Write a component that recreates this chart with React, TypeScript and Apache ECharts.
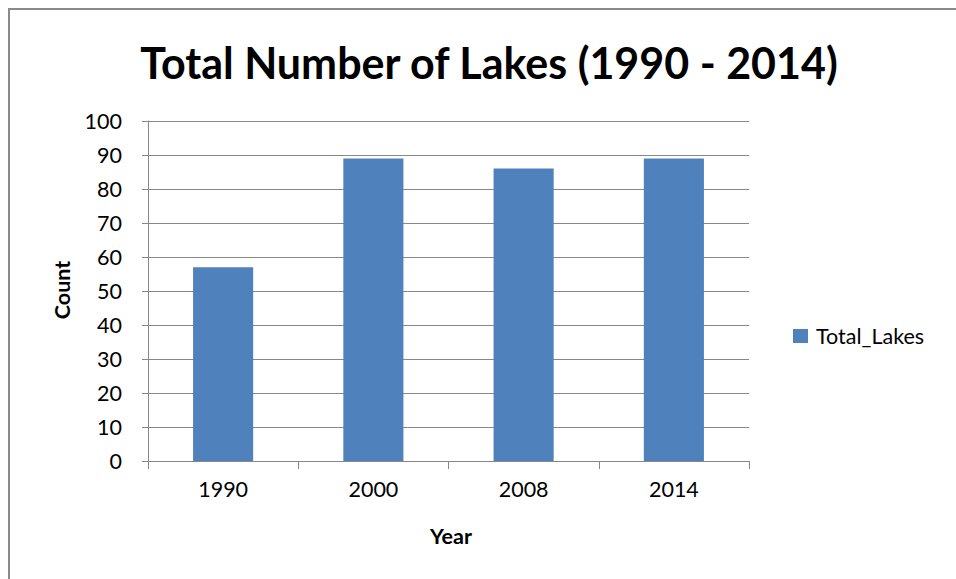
import React, { useEffect, useRef } from "react";
import * as echarts from "echarts";

const years = ["1990", "2000", "2008", "2014"];
const totalLakes = [57, 89, 86, 89];
const seriesName = "Total_Lakes";
const chartTitle = "Total Number of Lakes (1990 - 2014)";
const yAxisTitle = "Count";
const xAxisTitle = "Year";

const FONT = "Lato, 'Open Sans', sans-serif";
const GRID_GRAY = "#878787";
const LABEL_SIZE = 21.5;

export default function App() {
  const ref = useRef<HTMLDivElement>(null);

  useEffect(() => {
    document.body.style.margin = "0";
    if (!ref.current) return;
    const chart = echarts.init(ref.current, null, { renderer: "svg" });
    chart.setOption({
      animation: false,
      backgroundColor: "#fff",
      textStyle: { fontFamily: FONT },
      grid: { left: 148, top: 121, width: 601, height: 340 },
      legend: {
        show: true,
        left: 793,
        top: 325,
        padding: 0,
        orient: "vertical",
        itemWidth: 15,
        itemHeight: 14,
        itemGap: 8,
        icon: "rect",
        textStyle: { fontFamily: FONT, fontSize: LABEL_SIZE, color: "#000", padding: [0, 0, 0, 3] },
        data: [seriesName],
      },
      xAxis: {
        type: "category",
        data: years,
        axisLine: { show: true, lineStyle: { color: GRID_GRAY, width: 1 } },
        axisTick: { show: true, length: 8, alignWithLabel: false, lineStyle: { color: GRID_GRAY } },
        axisLabel: { color: "#000", fontSize: LABEL_SIZE, fontFamily: FONT, margin: 17 },
        splitLine: { show: false },
      },
      yAxis: {
        type: "value",
        min: 0,
        max: 100,
        interval: 10,
        axisLine: { show: true, lineStyle: { color: GRID_GRAY, width: 1 } },
        axisTick: { show: true, length: 6, lineStyle: { color: GRID_GRAY } },
        axisLabel: { color: "#000", fontSize: LABEL_SIZE, fontFamily: FONT, margin: 26 },
        splitLine: { show: true, lineStyle: { color: GRID_GRAY, width: 1 } },
      },
      series: [
        {
          name: seriesName,
          type: "bar",
          data: totalLakes,
          barWidth: "40%",
          itemStyle: { color: "#4F81BD" },
        },
      ],
      graphic: [
        {
          type: "rect",
          shape: { x: 9, y: 9, width: 2000, height: 2000 },
          style: { fill: "none", stroke: "#8a8a8a", lineWidth: 2 },
          silent: true,
        },
        {
          type: "text",
          x: 489,
          y: 62,
          style: {
            text: chartTitle,
            fontFamily: FONT,
            fontWeight: "bold",
            fontSize: 43,
            fill: "#000",
            textAlign: "center",
            textVerticalAlign: "middle",
          },
        },
        {
          type: "text",
          x: 62,
          y: 290,
          rotation: Math.PI / 2,
          style: {
            text: yAxisTitle,
            fontFamily: FONT,
            fontWeight: "bold",
            fontSize: LABEL_SIZE,
            fill: "#000",
            textAlign: "center",
            textVerticalAlign: "middle",
          },
        },
        {
          type: "text",
          x: 451,
          y: 536,
          style: {
            text: xAxisTitle,
            fontFamily: FONT,
            fontWeight: "bold",
            fontSize: LABEL_SIZE,
            fill: "#000",
            textAlign: "center",
            textVerticalAlign: "middle",
          },
        },
      ],
    });
    return () => chart.dispose();
  }, []);

  return <div ref={ref} style={{ width: 956, height: 579 }} />;
}
